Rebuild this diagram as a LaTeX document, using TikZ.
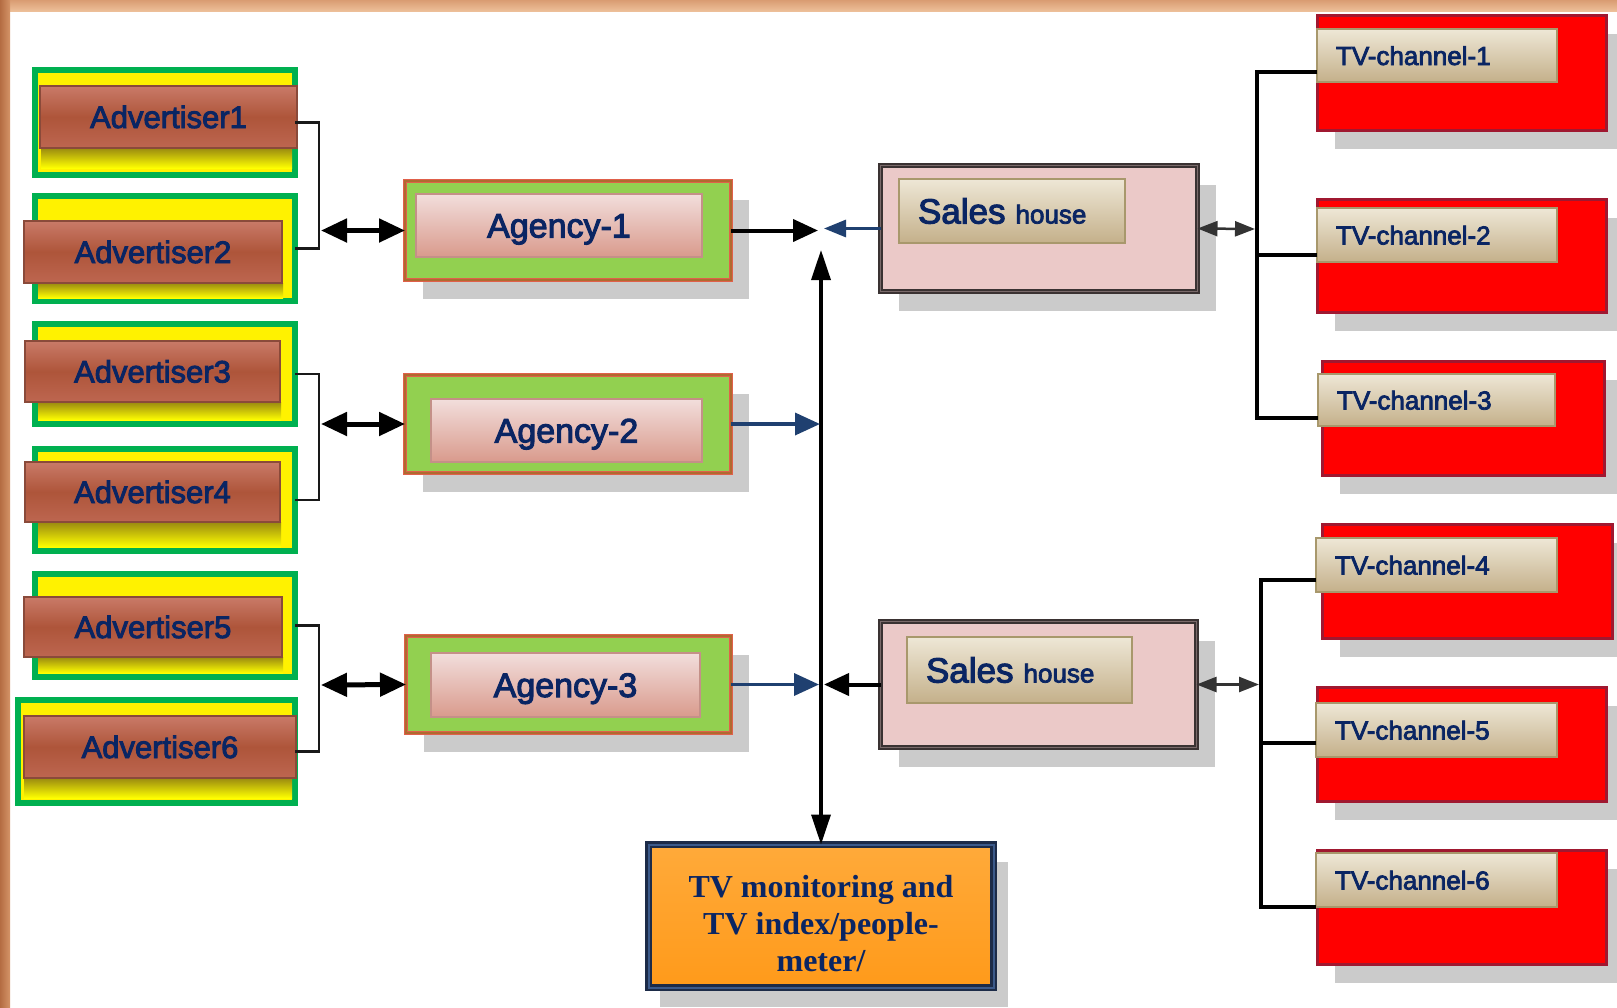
\documentclass[tikz,border=0pt]{standalone}
\usepackage{fontspec}
\setmainfont{Liberation Sans}
\newfontfamily\lsans[FakeBold=3]{Liberation Sans}
\newfontfamily\lserif{Liberation Serif}
\usetikzlibrary{arrows.meta,shadows,calc}
\definecolor{navy}{HTML}{0A2563}
\definecolor{advgreen}{HTML}{00B050}
\definecolor{brtop}{HTML}{C97A68}
\definecolor{brmid}{HTML}{AE553A}
\definecolor{brbot}{HTML}{BD6650}
\definecolor{brownbd}{HTML}{8A4A3A}
\definecolor{olivesh}{HTML}{9A8A10}
\definecolor{aggreen}{HTML}{92D050}
\definecolor{agred}{HTML}{E0604A}
\definecolor{agbrown}{HTML}{B06A30}
\definecolor{pktop}{HTML}{F2DEDC}
\definecolor{pkbot}{HTML}{D99A8C}
\definecolor{pkbd}{HTML}{C49088}
\definecolor{shfill}{HTML}{EBC9C8}
\definecolor{shdark}{HTML}{3A3232}
\definecolor{shmid}{HTML}{7A6A6A}
\definecolor{tantop}{HTML}{EEE7D6}
\definecolor{tanbot}{HTML}{C4B08A}
\definecolor{tanbd}{HTML}{A8986C}
\definecolor{tvred}{HTML}{FF0000}
\definecolor{tvbd}{HTML}{A01830}
\definecolor{shadowgray}{HTML}{CBCBCB}
\definecolor{orgtop}{HTML}{FFAA3A}
\definecolor{orgmid}{HTML}{FF8C00}
\definecolor{orgbot}{HTML}{FF9A1A}
\definecolor{tvnavy}{HTML}{1C2B48}
\definecolor{tvblue}{HTML}{3C5A8A}
\definecolor{arrblue}{HTML}{1F4070}
\definecolor{bandtop}{HTML}{D99C72}
\definecolor{bandbot}{HTML}{EDBF99}
\definecolor{leftA}{HTML}{B46C42}
\definecolor{leftB}{HTML}{D49468}
\begin{document}
\begin{tikzpicture}[x=1pt,y=-1pt,
  every node/.style={inner sep=0pt,outer sep=0pt,anchor=north west},
  shd/.style={general shadow={fill=shadowgray,shadow xshift=18pt,shadow yshift=-19pt}},
  advbox/.style={draw=advgreen,line width=6pt,fill=yellow},
  brownbox/.style={draw=brownbd,line width=1.5pt,top color=brtop,bottom color=brbot,middle color=brmid,
    text=navy,font=\lsans\fontsize{31}{36}\selectfont,text height=22pt,text depth=0pt},
  agbox/.style={shd,draw=agred,double=agbrown,line width=1pt,double distance=1.5pt,fill=aggreen},
  pinkbox/.style={draw=pkbd,line width=1.5pt,top color=pktop,bottom color=pkbot,
    text=navy,font=\lsans\fontsize{34}{38}\selectfont,text height=24pt,text depth=0pt},
  shbox/.style={shd,draw=shdark,double=shmid,line width=2pt,double distance=1.5pt,fill=shfill},
  tanbox/.style={draw=tanbd,line width=1.5pt,top color=tantop,bottom color=tanbot,text=navy,align=left},
  tvbox/.style={shd,draw=tvbd,line width=3pt,fill=tvred},
  tvlabel/.style={tanbox,font=\lsans\fontsize{26}{30}\selectfont,inner xsep=19pt,text height=19pt,text depth=0pt},
  brk/.style={draw=black!90,line width=2.5pt},
  tvbrk/.style={draw=black,line width=3.5pt},
  bigdbl/.style={line width=5pt,{Triangle[length=26pt,width=23pt]}-{Triangle[length=26pt,width=23pt]}},
  blkarr/.style={line width=4pt,-{Triangle[length=25pt,width=22pt]}},
  bluearr/.style={draw=arrblue,line width=3.5pt,-{Triangle[length=25pt,width=22pt]}},
  bluesm/.style={draw=arrblue,line width=3pt,-{Triangle[length=22pt,width=17pt]}},
  vdbl/.style={line width=3.5pt,{Triangle[length=30pt,width=19pt]}-{Triangle[length=30pt,width=19pt]}},
  smdbl/.style={draw=black!80,line width=2.5pt,{Triangle[length=20pt,width=15pt]}-{Triangle[length=20pt,width=15pt]}},
  olsh/.style={top color=olivesh,bottom color=yellow}
]
\clip (0,0) rectangle (1617,1007);
\fill[white] (0,0) rectangle (1617,1007);
\shade[top color=bandtop,bottom color=bandbot] (0,0) rectangle (1617,11);
\shade[left color=leftA,right color=leftB] (0,0) rectangle (10,1007);

% advertisers
\node[advbox,minimum width=260,minimum height=105] (g1) at (35,70) {};
\node[advbox,minimum width=260,minimum height=105] (g2) at (35,196) {};
\node[advbox,minimum width=260,minimum height=100] (g3) at (35,324) {};
\node[advbox,minimum width=260,minimum height=102] (g4) at (35,449) {};
\node[advbox,minimum width=260,minimum height=103] (g5) at (35,574) {};
\node[advbox,minimum width=277,minimum height=103] (g6) at (18,700) {};

\shade[olsh] (41,148) rectangle (292,168);
\shade[olsh] (38,283) rectangle (283,298);
\shade[olsh] (38,402) rectangle (281,420);
\shade[olsh] (38,522) rectangle (281,547);
\shade[olsh] (38,657) rectangle (283,673);
\shade[olsh] (24,778) rectangle (292,798);

\node[brownbox,minimum width=257,minimum height=62] (b1) at (40,86) {Advertiser1};
\node[brownbox,minimum width=258,minimum height=62] (b2) at (24,221) {Advertiser2};
\node[brownbox,minimum width=255,minimum height=61] (b3) at (25,341) {Advertiser3};
\node[brownbox,minimum width=255,minimum height=60] (b4) at (25,462) {Advertiser4};
\node[brownbox,minimum width=258,minimum height=60] (b5) at (24,597) {Advertiser5};
\node[brownbox,minimum width=272,minimum height=62] (b6) at (24,716) {Advertiser6};

% agencies
\node[agbox,minimum width=326,minimum height=99] (ag1) at (405,181) {};
\node[agbox,minimum width=326,minimum height=98] (ag2) at (405,375) {};
\node[agbox,minimum width=325,minimum height=97] (ag3) at (406,636) {};
\node[pinkbox,minimum width=286,minimum height=63] (p1) at (416,194) {Agency-1};
\node[pinkbox,minimum width=271,minimum height=63] (p2) at (431,399) {Agency-2};
\node[pinkbox,minimum width=269,minimum height=64] (p3) at (431,653) {Agency-3};

% sales houses
\node[shbox,minimum width=317,minimum height=126] (sh1) at (880.5,165.5) {};
\node[shbox,minimum width=316,minimum height=126] (sh2) at (880.5,621.5) {};
\node[tanbox,minimum height=64,inner xsep=19pt,text width=188pt,text height=25pt,text depth=0pt] (sl1) at (899,179)
  {{\lsans\fontsize{35}{40}\selectfont Sales}\hspace{10pt}{\lsans\fontsize{26}{30}\selectfont house}};
\node[tanbox,minimum height=66,inner xsep=19pt,text width=187pt,text height=25pt,text depth=0pt] (sl2) at (907,637)
  {{\lsans\fontsize{35}{40}\selectfont Sales}\hspace{10pt}{\lsans\fontsize{26}{30}\selectfont house}};

% TV channels
\node[tvbox,minimum width=289,minimum height=115] (r1) at (1317,15) {};
\node[tvbox,minimum width=289,minimum height=113] (r2) at (1317,199) {};
\node[tvbox,minimum width=282,minimum height=114] (r3) at (1322,361) {};
\node[tvbox,minimum width=290,minimum height=114] (r4) at (1322,524) {};
\node[tvbox,minimum width=289,minimum height=114] (r5) at (1317,687) {};
\node[tvbox,minimum width=289,minimum height=114] (r6) at (1317,850) {};
\node[tvlabel,text width=202pt,minimum height=53] (t1) at (1317,29) {TV-channel-1};
\node[tvlabel,text width=202pt,minimum height=54] (t2) at (1317,208) {TV-channel-2};
\node[tvlabel,text width=199pt,minimum height=52] (t3) at (1318,374) {TV-channel-3};
\node[tvlabel,text width=203pt,minimum height=54] (t4) at (1316,538) {TV-channel-4};
\node[tvlabel,text width=203pt,minimum height=54] (t5) at (1316,703) {TV-channel-5};
\node[tvlabel,text width=203pt,minimum height=54] (t6) at (1316,853) {TV-channel-6};

% TV monitoring
\fill[shadowgray] (660,862) rectangle (1008,1007);
\node[draw=tvnavy,double=tvblue,line width=2.5pt,double distance=2pt,
  top color=orgtop,middle color=orgmid,bottom color=orgbot,
  minimum width=345,minimum height=143,text=navy,align=center,anchor=north west,
  font=\lserif\bfseries\fontsize{32}{37}\selectfont] (tvm) at (648.5,844.5)
  {\rule{0pt}{38pt}TV monitoring and\\TV index/people-\\meter/};

% advertiser brackets
\coordinate (k1) at (319,230.5);
\coordinate (k2) at (319,424);
\coordinate (k3) at (319,685);
\draw[brk] (g1.east) -| (k1) |- (g2.east);
\draw[brk] (g3.east) -| (k2) |- (g4.east);
\draw[brk] (g5.east) -| (k3) |- (g6.east);
\draw[bigdbl] ($(k1)+(2,0)$) -- (ag1.west);
\draw[bigdbl] ($(k2)+(2,0)$) -- (ag2.west);
\draw[bigdbl] ($(k3)+(2,0)$) -- (ag3.west);

% hub
\coordinate (h1) at (818,230.5);
\coordinate (h1b) at (824,228.5);
\coordinate (h2) at (820,424);
\coordinate (h3) at (819,684.5);
\coordinate (h3b) at (824,684.5);
\coordinate (htop) at (821,250);
\draw[vdbl] (htop) -- (tvm.north);
\draw[blkarr] (ag1.east) -- (h1);
\draw[bluesm] (sh1.west) -- (h1b);
\draw[bluearr] (ag2.east) -- (h2);
\draw[bluearr] (ag3.east) -- (h3);
\draw[blkarr] (sh2.west) -- (h3b);

% TV brackets
\coordinate (q1) at (1257,229);
\coordinate (a1) at ($(t1.south west)+(0,-10)$);
\coordinate (a2) at ($(t2.south west)+(0,-7)$);
\coordinate (a3) at ($(t3.south west)+(0,-8)$);
\draw[tvbrk] (a1) -- (a1 -| q1) -- (a3 -| q1) -- (a3);
\draw[tvbrk] (a2) -- (a2 -| q1);
\draw[smdbl] (sh1.east) -- ($(q1)+(-2,0)$);
\coordinate (q2) at (1261,684.5);
\coordinate (a4) at ($(t4.south west)+(0,-12)$);
\coordinate (a5) at ($(t5.south west)+(0,-14)$);
\coordinate (a6) at ($(t6.south west)+(0,0)$);
\draw[tvbrk] (a4) -- (a4 -| q2) -- (a6 -| q2) -- (a6);
\draw[tvbrk] (a5) -- (a5 -| q2);
\draw[smdbl] (sh2.east) -- ($(q2)+(-2,0)$);
\end{tikzpicture}
\end{document}
